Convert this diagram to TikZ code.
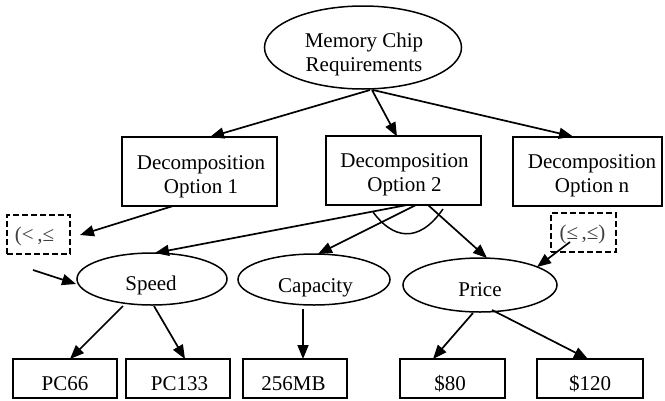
\documentclass[tikz,border=0pt]{standalone}
\usepackage{fontspec}
\setmainfont{Liberation Serif}
\usetikzlibrary{shapes.geometric,arrows.meta,calc}
\begin{document}
\begin{tikzpicture}[x=1pt,y=-1pt,
  font=\fontsize{21}{24}\selectfont,
  box/.style={draw,line width=1.6pt,inner sep=0pt,outer sep=0pt},
  oval/.style={draw,ellipse,line width=1.5pt,inner sep=0pt,outer sep=0pt},
  dbox/.style={draw,dash pattern=on 6pt off 3pt,line width=2pt,inner sep=0pt,outer sep=0pt},
  txt/.style={inner sep=0pt,align=center},
  ctxt/.style={inner sep=0pt,text=black!75},
  arr/.style={-{Triangle[length=14pt,width=11pt]},line width=1.7pt},
]
\path[fill=white] (0,0) rectangle (665,400);

% top
\node[oval,minimum width=197pt,minimum height=83pt] (top) at (363,47.5) {};
\node[txt] (topT) at (364,54) {Memory Chip\\Requirements};

% options
\node[box,minimum width=155pt,minimum height=69pt] (o1) at (199.5,171.5) {};
\node[txt] (o1T) at (201,176.5) {Decomposition\\Option 1};
\node[box,minimum width=155pt,minimum height=69pt] (o2) at (403.5,170.5) {};
\node[txt] (o2T) at (404.5,175) {Decomposition\\Option 2};
\node[box,minimum width=149pt,minimum height=69pt] (on) at (587.5,171.5) {};
\node[txt] (onT) at (592,176) {Decomposition\\Option n};

% dashed boxes
\node[dbox,minimum width=63pt,minimum height=39pt] (dL) at (38.5,234.5) {};
\node[ctxt] (dLT) at (34.5,236) {(<\,,≤};
\node[dbox,minimum width=65pt,minimum height=39pt] (dR) at (583.5,232.5) {};
\node[ctxt] (dRT) at (582.5,234) {(≤\,,≤)};

% attributes
\node[oval,minimum width=150pt,minimum height=52pt] (speed) at (152,279) {};
\node[txt,anchor=base] (speedT) at (151,290.5) {Speed};
\node[oval,minimum width=152pt,minimum height=51pt] (cap) at (314,279.5) {};
\node[txt,anchor=base] (capT) at (315.5,292) {Capacity};
\node[oval,minimum width=154pt,minimum height=54pt] (price) at (480,285) {};
\node[txt,anchor=base] (priceT) at (480,296) {Price};

% values
\node[box,minimum width=104pt,minimum height=39pt] (pc66) at (65,378.5) {};
\node[txt,anchor=base] (pc66T) at (65,390) {PC66};
\node[box,minimum width=104pt,minimum height=39pt] (pc133) at (178,378.5) {};
\node[txt,anchor=base] (pc133T) at (179.5,390) {PC133};
\node[box,minimum width=104pt,minimum height=39pt] (mb) at (295,378.5) {};
\node[txt,anchor=base] (mbT) at (293.5,390) {256MB};
\node[box,minimum width=105pt,minimum height=39pt] (p80) at (452.5,378.5) {};
\node[txt,anchor=base] (p80T) at (450,390) {\$80};
\node[box,minimum width=106pt,minimum height=39pt] (p120) at (590,378.5) {};
\node[txt,anchor=base] (p120T) at (590,390) {\$120};

% connectors
\draw[arr] ($(top)+(7,42.5)$) -- ($(o1)+(10.5,-34.5)$);
\draw[arr] ($(top)+(9,42.5)$) -- ($(o2)+(-6.5,-34)$);
\draw[arr] ($(top)+(10,42.5)$) -- ($(on)+(-14.5,-35)$);
\draw[arr] ($(o1)+(-26.5,34.5)$) -- ($(dL)+(41.5,0.5)$);
\draw[arr] ($(o2)+(3.5,34.5)$) -- ($(speed)+(3,-26)$);
\draw[arr] ($(o2)+(12.5,34.5)$) -- ($(cap)+(4,-25.5)$);
\draw[arr] ($(o2)+(24.5,34.5)$) -- ($(price)+(7,-27)$);
\draw[arr] ($(dL)+(-5.5,35.5)$) -- ($(speed)+(-76,5)$);
\draw[arr] ($(dR)+(-13.5,9.5)$) -- ($(price)+(57,-18)$);
\draw[arr] ($(speed)+(-29,27)$) -- ($(pc66)+(5,-19.5)$);
\draw[arr] ($(speed)+(2,27)$) -- ($(pc133)+(7,-19.5)$);
\draw[arr] ($(cap)+(-11,29.5)$) -- ($(mb)+(8,-19.5)$);
\draw[arr] ($(price)+(-7,28)$) -- ($(p80)+(-19.5,-19.5)$);
\draw[arr] ($(price)+(12,25)$) -- ($(p120)+(-2,-19.5)$);

% AND arc
\draw[line width=1.5pt] (373,212) .. controls (392,238) and (418,245) .. (443,209);
\end{tikzpicture}
\end{document}
